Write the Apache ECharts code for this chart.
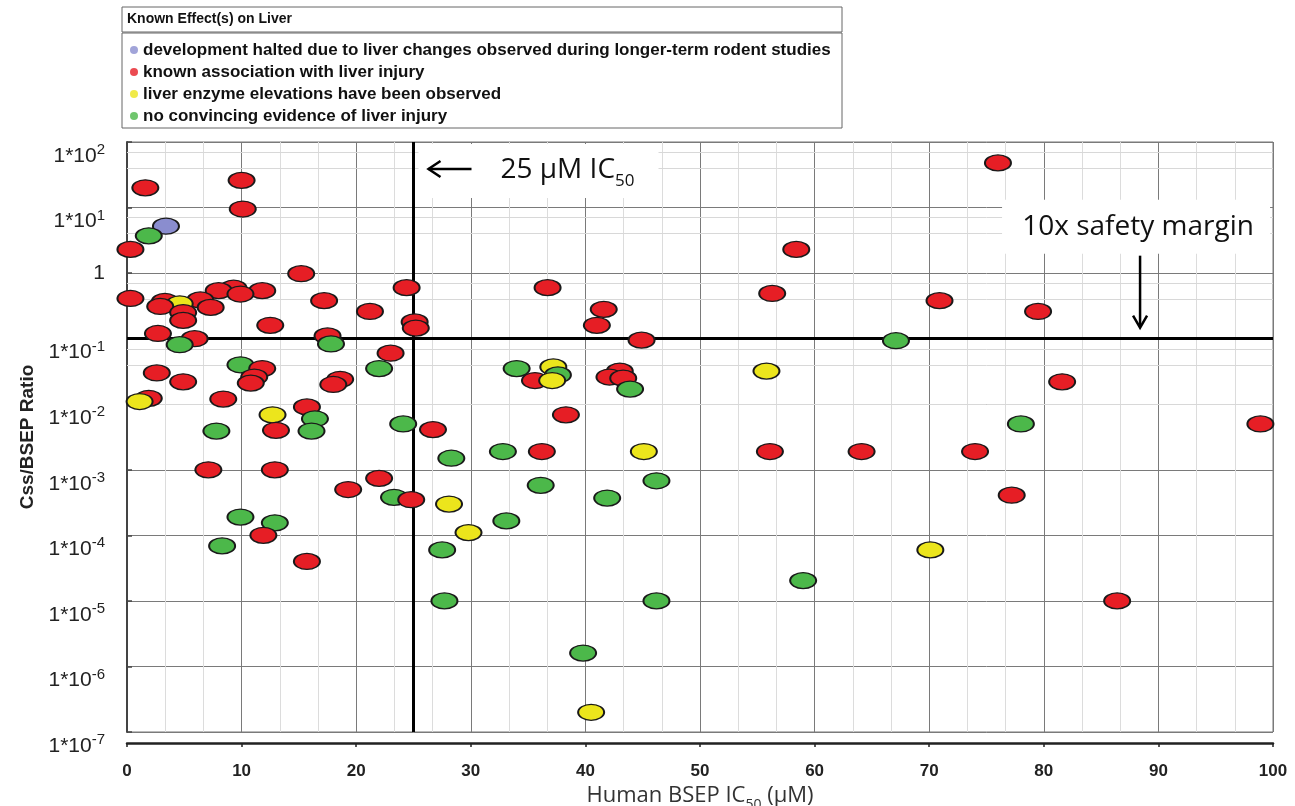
<!DOCTYPE html>
<html><head><meta charset="utf-8">
<script src="https://cdn.jsdelivr.net/npm/echarts@6/dist/echarts.min.js"></script>
<style>html,body{margin:0;padding:0;background:#fff}#c{width:1295px;height:806px}</style>
</head><body><div id="c"></div>
<script>
// ---- data ----
const categories = [
  'development halted due to liver changes observed during longer-term rodent studies',
  'known association with liver injury',
  'liver enzyme elevations have been observed',
  'no convincing evidence of liver injury'
];
const categoryColors = ['#8a8dcf', '#e61e25', '#ece51c', '#4cb84a'];

// [Human BSEP IC50 (µM), Css/BSEP ratio]
const bluePoints = [[3.4, 5.2]];
const redPoints = [
  [1.6, 20], [10.0, 26], [10.1, 9.5], [0.3, 2.3], [15.2, 0.98], [0.3, 0.41], [3.3, 0.37],
  [2.9, 0.31], [4.9, 0.25], [4.9, 0.19], [6.4, 0.39], [7.3, 0.30], [8.0, 0.54], [9.3, 0.59],
  [9.9, 0.48], [11.8, 0.54], [12.5, 0.16], [2.7, 0.12], [5.9, 0.10], [17.2, 0.38], [21.2, 0.26],
  [24.4, 0.60], [25.1, 0.18], [25.2, 0.145], [17.5, 0.11], [23.0, 0.060], [2.6, 0.030],
  [4.9, 0.022], [1.9, 0.0123], [8.4, 0.012], [11.8, 0.035], [11.1, 0.026], [10.8, 0.021],
  [18.6, 0.024], [18.0, 0.020], [15.7, 0.0091], [13.0, 0.0040], [26.7, 0.0041], [7.1, 0.0010],
  [12.9, 0.0010], [22.0, 0.00074], [19.3, 0.00050], [24.8, 0.00035], [11.9, 0.00010],
  [15.7, 0.00004], [36.7, 0.60], [41.6, 0.28], [41.0, 0.16], [44.9, 0.095], [35.6, 0.023],
  [43.0, 0.032], [42.1, 0.026], [43.3, 0.025], [38.3, 0.0069], [36.2, 0.0019], [76.0, 48],
  [58.4, 2.3], [56.3, 0.49], [70.9, 0.38], [79.5, 0.26], [81.6, 0.022], [98.9, 0.0050],
  [56.1, 0.0019], [64.1, 0.0019], [74.0, 0.0019], [77.2, 0.00041], [86.4, 0.00001]
];
const yellowPoints = [
  [1.1, 0.011], [4.6, 0.34], [12.7, 0.0069], [37.2, 0.037], [37.1, 0.023], [45.1, 0.0019],
  [28.1, 0.0003], [29.8, 0.00011], [40.5, 2.0e-7], [55.8, 0.032], [70.1, 0.00006]
];
const greenPoints = [
  [1.9, 3.7], [4.6, 0.081], [17.8, 0.083], [22.0, 0.035], [9.9, 0.040], [16.4, 0.0060],
  [7.8, 0.0039], [16.1, 0.0039], [24.1, 0.0050], [23.3, 0.00038], [9.9, 0.00019],
  [12.9, 0.000155], [8.3, 0.000069], [34.0, 0.035], [37.6, 0.028], [43.9, 0.017],
  [32.8, 0.0019], [28.3, 0.0015], [36.1, 0.00058], [46.2, 0.00068], [41.9, 0.00037],
  [33.1, 0.000166], [27.5, 0.00006], [27.7, 0.00001], [46.2, 0.00001], [39.8, 1.6e-6],
  [67.1, 0.093], [78.0, 0.0050], [59.0, 0.0000204]
];
const xTicks = [0, 10, 20, 30, 40, 50, 60, 70, 80, 90, 100];
const yMin = 1e-7, yMax = 1e2;
const yMinorMultiples = [4, 7];
const ic50Line = 25;
const safetyLine = 0.1;

// ---- build ----
const groups = [bluePoints, redPoints, yellowPoints, greenPoints];
let allItems = [];
groups.forEach((pts, gi) => pts.forEach(p => allItems.push({value: p, itemStyle: {color: categoryColors[gi]}})));
allItems.sort((a, b) => b.value[1] - a.value[1]); // lower points drawn on top

const minorY = [];
for (let e = -7; e < 2; e++) yMinorMultiples.forEach(m => minorY.push({yAxis: m * Math.pow(10, e)}));

const chart = echarts.init(document.getElementById('c'));
const legendSeries = categories.map((name, i) => ({
  name, type: 'scatter', data: [], itemStyle: {color: categoryColors[i]}
}));

const option = {
  animation: false,
  backgroundColor: '#fff',
  grid: {left: 127, right: 22, top: 142, bottom: 74, outerBoundsMode: 'none', containLabel: false,
         show: true, borderColor: '#777', borderWidth: 1, backgroundColor: '#fff'},
  legend: {
    orient: 'vertical', left: 130, top: 41, itemGap: 4, itemWidth: 8, itemHeight: 8, padding: 0,
    icon: 'circle', itemStyle: {borderWidth: 0},
    data: categories,
    textStyle: {fontFamily: 'Liberation Sans, Arial, sans-serif', fontWeight: 'bold', fontSize: 17, lineHeight: 18, color: '#111'},
    selectedMode: false
  },
  xAxis: {
    type: 'value', min: xTicks[0], max: xTicks[xTicks.length - 1], interval: 10, offset: 11,
    axisLine: {show: true, lineStyle: {color: '#222', width: 2.5}},
    axisTick: {show: true, length: 4, lineStyle: {color: '#222', width: 1.5}},
    axisLabel: {margin: 20, fontFamily: 'Liberation Sans Narrow, Liberation Sans, Arial, sans-serif', fontWeight: 'bold', fontSize: 17, color: '#222'},
    splitLine: {show: true, lineStyle: {color: '#7a7a7a', width: 1}},
    minorTick: {show: false, splitNumber: 3},
    minorSplitLine: {show: true, lineStyle: {color: '#dcdcdc', width: 1}},
    name: '{t|Human BSEP IC}{sub|50}{t| (µM)}', nameLocation: 'middle', nameGap: 42,
    nameTextStyle: {rich: {
      t: {fontFamily: 'Open Sans, Noto Sans, sans-serif', fontSize: 22, color: '#333', verticalAlign: 'bottom'},
      sub: {fontFamily: 'Open Sans, Noto Sans, sans-serif', fontSize: 14, color: '#333', verticalAlign: 'bottom', padding: [0, 0, -5, 0]}
    }}
  },
  yAxis: {
    type: 'log', logBase: 10, min: yMin, max: yMax, splitNumber: 9, offset: 14,
    axisLine: {show: true, lineStyle: {color: '#444', width: 2}},
    axisTick: {show: true, inside: true, length: 5, lineStyle: {color: '#444', width: 1.5}},
    axisLabel: {
      margin: 8,
      formatter: v => {
        const e = Math.round(Math.log10(v));
        return e === 0 ? '{one|1}' : '{b|1*10}{s|' + e + '}';
      },
      rich: {
        one: {fontFamily: 'Liberation Sans, Arial, sans-serif', fontSize: 21, color: '#222'},
        b: {fontFamily: 'Liberation Sans, Arial, sans-serif', fontSize: 21, color: '#222', verticalAlign: 'bottom', padding: [28, 0, 0, 0]},
        s: {fontFamily: 'Liberation Sans, Arial, sans-serif', fontSize: 15, color: '#222', verticalAlign: 'bottom', padding: [0, 0, 9, 0]}
      }
    },
    splitLine: {show: true, lineStyle: {color: '#7a7a7a', width: 1}},
    name: 'Css/BSEP Ratio', nameLocation: 'middle', nameGap: 70,
    nameTextStyle: {fontFamily: 'Liberation Sans, Arial, sans-serif', fontWeight: 'bold', fontSize: 19, color: '#222'}
  },
  series: [
    ...legendSeries,
    {
      type: 'scatter', name: 'minor', data: [], z: 1, silent: true,
      markLine: {silent: true, symbol: 'none', label: {show: false}, animation: false,
        lineStyle: {color: '#d8d8d8', width: 1, type: 'solid'}, data: minorY}
    },
    {
      type: 'scatter', name: 'refs', data: [], z: 2, silent: true,
      markLine: {silent: true, symbol: 'none', label: {show: false}, animation: false,
        lineStyle: {color: '#000', width: 3, type: 'solid'},
        data: [{xAxis: ic50Line}, {yAxis: safetyLine}]}
    },
    {
      type: 'scatter', name: 'points', z: 5, data: allItems,
      symbol: 'circle', symbolSize: [26, 16],
      itemStyle: {borderColor: '#1a1a1a', borderWidth: 1.6, opacity: 1}
    }
  ]
};
chart.setOption(option);

// annotations anchored to data coordinates
const topAt25 = chart.convertToPixel({gridIndex: 0}, [ic50Line, yMax]);
const arrowAnchor = chart.convertToPixel({gridIndex: 0}, [88.4, safetyLine]);
const ax = topAt25[0], ay = topAt25[1];
const bx = arrowAnchor[0], by = arrowAnchor[1];
const annFont = 'Open Sans, Noto Sans, sans-serif';
chart.setOption({
  graphic: [
    // legend boxes
    {type: 'rect', shape: {x: 122, y: 7, width: 720, height: 25}, style: {fill: '#fff', stroke: '#666', lineWidth: 1}, z: 0},
    {type: 'rect', shape: {x: 122, y: 33, width: 720, height: 95}, style: {fill: '#fff', stroke: '#666', lineWidth: 1}, z: 0},
    {type: 'text', x: 127, y: 12, style: {text: 'Known Effect(s) on Liver', fontFamily: 'Liberation Sans, Arial, sans-serif', fontWeight: 'bold', fontSize: 14, fill: '#111'}, z: 10},
    // 25 µM IC50 label
    {type: 'rect', shape: {x: ax + 5, y: ay + 2, width: 240, height: 54}, style: {fill: '#fff'}, z: 50},
    {type: 'line', shape: {x1: ax + 58, y1: ay + 27, x2: ax + 15, y2: ay + 27}, style: {stroke: '#000', lineWidth: 2.5}, z: 51},
    {type: 'polyline', shape: {points: [[ax + 27, ay + 19], [ax + 15, ay + 27], [ax + 27, ay + 35]]}, style: {stroke: '#000', lineWidth: 2.5, fill: null}, z: 51},
    {type: 'text', x: ax + 87, y: ay + 28, style: {
      text: '{t|25 µM IC}{s|50}', verticalAlign: 'middle',
      rich: {t: {fontFamily: annFont, fontSize: 28, fill: '#111', verticalAlign: 'bottom'},
             s: {fontFamily: annFont, fontSize: 17, fill: '#111', verticalAlign: 'bottom', padding: [0, 0, -6, 0]}}
    }, z: 52},
    // 10x safety margin
    {type: 'rect', shape: {x: bx - 138, y: by - 139, width: 268, height: 54}, style: {fill: '#fff'}, z: 50},
    {type: 'text', x: bx - 2, y: by - 112, style: {text: '10x safety margin', align: 'center', verticalAlign: 'middle', fontFamily: annFont, fontSize: 28, fill: '#111'}, z: 52},
    {type: 'line', shape: {x1: bx, y1: by - 83, x2: bx, y2: by - 12}, style: {stroke: '#000', lineWidth: 2.5}, z: 51},
    {type: 'polyline', shape: {points: [[bx - 7, by - 23], [bx, by - 11], [bx + 7, by - 23]]}, style: {stroke: '#000', lineWidth: 2.5, fill: null}, z: 51}
  ]
});
</script></body></html>
